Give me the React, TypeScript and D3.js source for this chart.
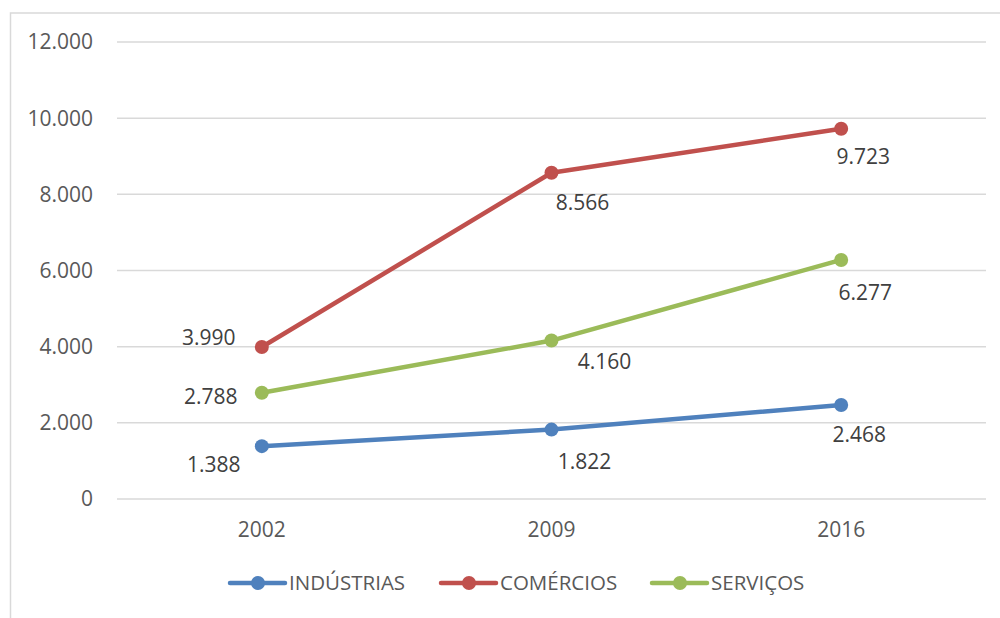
import { useEffect, useRef } from 'react';
import * as d3 from 'd3';

// chart data
const years = ['2002', '2009', '2016'];
const seriesNames = ['INDÚSTRIAS', 'COMÉRCIOS', 'SERVIÇOS'];
const industrias = [1388, 1822, 2468];
const comercios = [3990, 8566, 9723];
const servicos = [2788, 4160, 6277];
const yTicks = [0, 2000, 4000, 6000, 8000, 10000, 12000];

const colors = ['#4F81BD', '#C0504D', '#9BBB59'];
// label nudges (px) for each data label, like the hand-placed ones in the source
const labelNudge = [
  [[-48, 19], [33, 32], [18, 30]],
  [[-53, -9], [31, 30], [22, 28]],
  [[-51, 4], [53, 21], [24, 33]],
];

const fmt = (v: number) => d3.format(',')(v).replace(/,/g, '.');

export default function App() {
  const svgRef = useRef<SVGSVGElement>(null);
  const width = 1000;
  const height = 618;

  useEffect(() => {
    if (!svgRef.current) return;
    const svg = d3.select(svgRef.current);
    svg.selectAll('*').remove();

    const font = '"Open Sans", "Noto Sans", sans-serif';
    const margin = { top: 42, right: 14, bottom: 119, left: 117 };
    const chartW = width - margin.left - margin.right;
    const chartH = height - margin.top - margin.bottom;

    // outer chart border (cropped on right and bottom in the source)
    svg
      .append('rect')
      .attr('x', 10.5)
      .attr('y', 13)
      .attr('width', 1100)
      .attr('height', 800)
      .style('fill', 'none')
      .style('stroke', '#D9D9D9')
      .style('stroke-width', 1.5);

    const g = svg.append('g').attr('transform', `translate(${margin.left}, ${margin.top})`);

    const x = d3.scaleBand().domain(years).range([0, chartW]);
    const y = d3.scaleLinear().domain([0, 12000]).range([chartH, 0]);

    // gridlines
    g.selectAll('.grid')
      .data(yTicks)
      .enter()
      .append('line')
      .attr('x1', 0)
      .attr('x2', chartW)
      .attr('y1', (d) => y(d))
      .attr('y2', (d) => y(d))
      .style('stroke', '#D9D9D9')
      .style('stroke-width', 1.5);

    // y tick labels
    g.selectAll('.ytick')
      .data(yTicks)
      .enter()
      .append('text')
      .attr('x', -24)
      .attr('y', (d) => y(d))
      .attr('dy', '0.35em')
      .style('text-anchor', 'end')
      .style('font-family', font)
      .style('font-size', '21px')
      .style('fill', '#595959')
      .text((d) => fmt(d));

    // x labels
    g.selectAll('.xtick')
      .data(years)
      .enter()
      .append('text')
      .attr('x', (d) => (x(d) as number) + x.bandwidth() / 2)
      .attr('y', chartH + 31)
      .attr('dy', '0.35em')
      .style('text-anchor', 'middle')
      .style('font-family', font)
      .style('font-size', '21px')
      .style('fill', '#595959')
      .text((d) => d);

    const allSeries = [industrias, comercios, servicos];
    const cx = (i: number) => (x(years[i]) as number) + x.bandwidth() / 2;

    const line = d3
      .line<number>()
      .x((_, i) => cx(i))
      .y((d) => y(d));

    allSeries.forEach((vals, s) => {
      g.append('path')
        .attr('d', line(vals))
        .style('fill', 'none')
        .style('stroke', colors[s])
        .style('stroke-width', 4.5)
        .style('stroke-linecap', 'round')
        .style('stroke-linejoin', 'round');

      g.selectAll(`.pt-${s}`)
        .data(vals)
        .enter()
        .append('circle')
        .attr('cx', (_, i) => cx(i))
        .attr('cy', (d) => y(d))
        .attr('r', 7)
        .style('fill', colors[s]);

      g.selectAll(`.lbl-${s}`)
        .data(vals)
        .enter()
        .append('text')
        .attr('x', (_, i) => cx(i) + labelNudge[s][i][0])
        .attr('y', (d, i) => y(d) + labelNudge[s][i][1])
        .attr('dy', '0.35em')
        .style('text-anchor', 'middle')
        .style('font-family', font)
        .style('font-size', '21px')
        .style('fill', '#404040')
        .text((d) => fmt(d));
    });

    // legend
    const legendX = [230, 441, 652];
    const legendY = 583;
    const legend = svg.append('g');
    seriesNames.forEach((name, s) => {
      const item = legend.append('g').attr('transform', `translate(${legendX[s]}, ${legendY})`);
      item
        .append('line')
        .attr('x1', 0)
        .attr('x2', 55)
        .style('stroke', colors[s])
        .style('stroke-width', 4.5)
        .style('stroke-linecap', 'round');
      item.append('circle').attr('cx', 28).attr('r', 7).style('fill', colors[s]);
      item
        .append('text')
        .attr('x', 59)
        .attr('dy', '0.35em')
        .style('font-family', font)
        .style('font-size', '20.5px')
        .style('fill', '#595959')
        .text(name);
    });
  }, []);

  return (
    <svg
      ref={svgRef}
      width={width}
      height={height}
      style={{ position: 'fixed', left: 0, top: 0, background: '#fff' }}
    />
  );
}
